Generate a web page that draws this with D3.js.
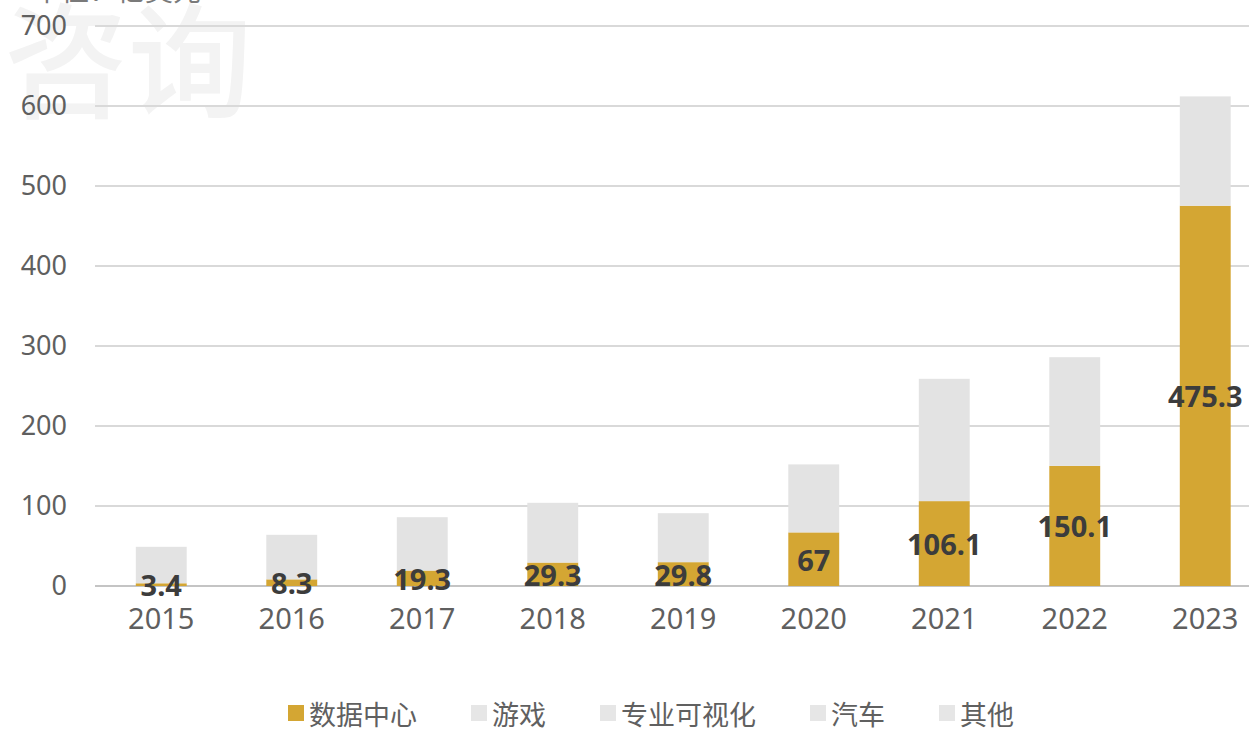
<!DOCTYPE html>
<html>
<head>
<meta charset="utf-8">
<script src="https://cdn.jsdelivr.net/npm/d3@7"></script>
<style>
  html, body { margin: 0; padding: 0; background: #ffffff; }
  svg { display: block; }
</style>
</head>
<body>
<svg id="chart" width="1249" height="731"></svg>
<script>
// Revenue by segment, 100M USD
const years = ["2015", "2016", "2017", "2018", "2019", "2020", "2021", "2022", "2023"];
const dataCenterValues = [3.4, 8.3, 19.3, 29.3, 29.8, 67, 106.1, 150.1, 475.3];
// Gaming, pro visualization, automotive and other combined (all drawn in the same grey)
const otherSegmentsValues = [45.6, 55.7, 66.7, 74.7, 61.2, 85.0, 152.9, 135.9, 136.7];
const yTicks = [0, 100, 200, 300, 400, 500, 600, 700];
const legendNames = ["数据中心", "游戏", "专业可视化", "汽车", "其他"];
const unitLabel = "单位：亿美元";

const gold = "#d4a633";
const grey = "#e3e3e3";
const legendColors = [gold, "#e6e6e6", "#e6e6e6", "#e6e6e6", "#e6e6e6"];

const svg = d3.select("#chart");
const W = 1249, H = 731;

// faint background stamp
svg.append("text")
  .attr("x", 4).attr("y", 108)
  .attr("font-family", "'Noto Sans CJK SC'")
  .attr("font-weight", 500)
  .attr("font-size", 124)
  .attr("fill", "#f3f3f3")
  .text("咨询");

// unit caption, clipped by the top edge
svg.append("text")
  .attr("x", 33).attr("y", 1)
  .attr("font-family", "'Noto Sans CJK SC'")
  .attr("font-size", 28)
  .attr("fill", "#7a7a7a")
  .text(unitLabel);

const plotLeft = 96, step = 130.5;
const x = d3.scaleBand()
  .domain(years)
  .range([plotLeft, plotLeft + step * years.length])
  .paddingInner(0.61)
  .paddingOuter(0.305);

const y = d3.scaleLinear().domain([0, 700]).range([586, 26]);

// gridlines
svg.append("g")
  .selectAll("line")
  .data(yTicks)
  .join("line")
  .attr("x1", 95).attr("x2", W)
  .attr("y1", d => y(d)).attr("y2", d => y(d))
  .attr("stroke", d => d === 0 ? "#c4c4c4" : "#d9d9d9")
  .attr("stroke-width", 2);

// y axis labels
const yAxis = d3.axisLeft(y).tickValues(yTicks).tickSize(0).tickPadding(0);
const gy = svg.append("g").attr("transform", "translate(67,0)").call(yAxis);
gy.select(".domain").remove();
gy.selectAll("text")
  .attr("font-family", "'Noto Sans', 'Open Sans', sans-serif")
  .attr("font-size", 27)
  .attr("fill", "#5f5f5f");

// x axis labels
const xAxis = d3.axisBottom(x).tickSize(0).tickPadding(0);
const gx = svg.append("g").attr("transform", "translate(0,608)").call(xAxis);
gx.select(".domain").remove();
gx.selectAll("text")
  .attr("font-family", "'Noto Sans', 'Open Sans', sans-serif")
  .attr("font-size", 29)
  .attr("fill", "#5f5f5f");

// stacked bars
const rows = years.map((yr, i) => ({ year: yr, dc: dataCenterValues[i], other: otherSegmentsValues[i] }));
const stack = d3.stack().keys(["dc", "other"])(rows);
const fills = { dc: gold, other: grey };

svg.append("g")
  .selectAll("g")
  .data(stack)
  .join("g")
  .attr("fill", s => fills[s.key])
  .selectAll("rect")
  .data(s => s)
  .join("rect")
  .attr("x", d => x(d.data.year))
  .attr("width", x.bandwidth())
  .attr("y", d => y(d[1]))
  .attr("height", d => y(d[0]) - y(d[1]));

// data-center value labels, centred on the segment
svg.append("g")
  .selectAll("text")
  .data(rows)
  .join("text")
  .attr("x", d => x(d.year) + x.bandwidth() / 2)
  .attr("y", d => y(d.dc / 2))
  .attr("text-anchor", "middle")
  .attr("dominant-baseline", "central")
  .attr("font-family", "'Noto Sans', 'Open Sans', sans-serif")
  .attr("font-weight", 700)
  .attr("font-size", 29)
  .attr("fill", "#3c3c3c")
  .text(d => d.dc);

// legend
const legend = svg.append("g");
const items = legend.selectAll("g")
  .data(legendNames)
  .join("g");
items.append("rect")
  .attr("width", 16).attr("height", 16)
  .attr("y", -8)
  .attr("fill", (d, i) => legendColors[i]);
items.append("text")
  .attr("x", 21)
  .attr("y", 0)
  .attr("dominant-baseline", "central")
  .attr("font-family", "'Noto Sans CJK SC'")
  .attr("font-size", 27)
  .attr("fill", "#606060")
  .text(d => d);

const widths = [];
items.each(function () {
  widths.push(this.getBBox().width);
});
const gap = 54;
const total = d3.sum(widths) + gap * (widths.length - 1);
let cursor = 651 - total / 2;
items.attr("transform", (d, i) => {
  const t = `translate(${cursor},713)`;
  cursor += widths[i] + gap;
  return t;
});
</script>
</body>
</html>
